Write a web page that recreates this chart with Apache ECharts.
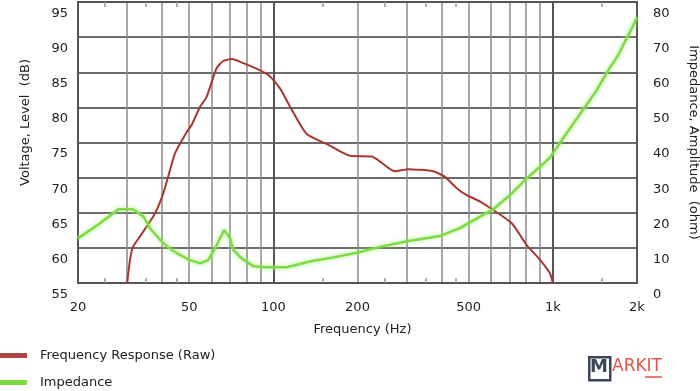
<!DOCTYPE html>
<html>
<head>
<meta charset="utf-8">
<script src="https://cdn.jsdelivr.net/npm/echarts@6/dist/echarts.min.js"></script>
<style>html,body{margin:0;padding:0;background:#fff;}#c{width:700px;height:391px;}</style>
</head>
<body>
<div id="c"></div>
<script>
// ---- data ----
const freqRawHz = [30, 30.7, 31.5, 33.3, 37.7, 40.4, 42.7, 44.5, 49, 51, 54.7, 57.7, 62.7, 66.2, 71, 78, 86, 96, 105.6, 114.7, 131.6, 155, 188, 225, 237, 272, 304, 373, 411, 453, 492, 549, 612, 713, 806, 900, 976, 1000];
const freqRawDb = [55, 58.3, 60.2, 61.6, 64.9, 67.8, 71.1, 73.5, 76.5, 77.5, 80.1, 81.5, 85.6, 86.6, 86.9, 86.3, 85.6, 84.6, 82.7, 80.1, 76.2, 74.8, 73.1, 73.0, 72.5, 70.9, 71.2, 70.9, 70.1, 68.5, 67.5, 66.6, 65.4, 63.5, 60.4, 58.3, 56.4, 55];
const impHz = [20, 24, 27.9, 31.5, 34.3, 36.2, 40.4, 43.3, 46.3, 50.3, 54.7, 58.5, 62.7, 66.7, 70, 71.9, 77, 84.8, 94.7, 111.6, 135, 164, 199, 247, 308, 395, 465, 549, 612, 713, 806, 900, 976, 1090, 1250, 1358, 1435, 1579, 1714, 1837, 1930, 2000];
const impOhm = [12.7, 17.0, 21.0, 21.0, 18.9, 15.6, 11.3, 9.4, 8.0, 6.5, 5.6, 6.5, 10.8, 15.1, 12.7, 9.4, 7.0, 4.8, 4.5, 4.5, 6.1, 7.3, 8.6, 10.5, 12.0, 13.4, 15.6, 18.9, 21.0, 25.5, 29.8, 33.1, 35.7, 41.3, 48.1, 52.1, 54.9, 60.6, 64.9, 69.7, 72.9, 75.7];
const xLabelValues = [20, 50, 100, 200, 500, 1000, 2000];
const xGridValues = [30, 40, 50, 60, 70, 80, 90, 200, 300, 400, 500, 600, 700, 800, 900];
const xMajorGridValues = [100, 1000];
const xMinorTicks = [25, 35, 45, 150, 250, 350, 450, 1500];
const seriesNames = ['Frequency Response (Raw)', 'Impedance'];

const FONT = 'DejaVu Sans';
const rawData = freqRawHz.map((f, i) => [f, freqRawDb[i]]);
const impData = impHz.map((f, i) => [f, impOhm[i]]);

const baseX = { type: 'log', logBase: 10, min: 20, max: 2000, gridIndex: 0 };
const chart = echarts.init(document.getElementById('c'), null, { renderer: 'canvas' });
chart.setOption({
  animation: false,
  backgroundColor: '#fff',
  grid: { left: 78, right: 63, top: 2, bottom: 108, containLabel: false, outerBoundsMode: 'none' },
  legend: {
    orient: 'vertical', left: 0, top: 349, padding: 0, itemGap: 14,
    itemWidth: 27, itemHeight: 5,
    textStyle: { fontFamily: FONT, fontSize: 13, color: '#222', padding: [0, 0, 0, 8] },
    data: [
      { name: seriesNames[0], icon: 'rect', itemStyle: { color: '#b04545' } },
      { name: seriesNames[1], icon: 'rect', itemStyle: { color: '#7ddc46' } }
    ]
  },
  xAxis: [
    Object.assign({}, baseX, {
      position: 'bottom',
      name: 'Frequency (Hz)', nameLocation: 'middle', nameGap: 40,
      nameTextStyle: { fontFamily: FONT, fontSize: 13, color: '#222', padding: [0, 0, 0, 10] },
      axisLine: { show: true, lineStyle: { color: '#555', width: 2 } },
      axisTick: { show: true, inside: true, length: 5, customValues: xMinorTicks, lineStyle: { color: '#999', width: 1.5 } },
      axisLabel: { customValues: xLabelValues, margin: 18, fontFamily: FONT, fontSize: 13, color: '#222',
        formatter: v => (v >= 1000 ? (Math.round(v / 100) / 10) + 'k' : String(Math.round(v))) },
      splitLine: { show: false }
    }),
    Object.assign({}, baseX, {
      position: 'top',
      axisLine: { show: true, lineStyle: { color: '#555', width: 2 } },
      axisTick: { show: true, inside: true, length: 5, customValues: xMinorTicks, lineStyle: { color: '#999', width: 1.5 } },
      axisLabel: { show: false },
      splitLine: { show: false }
    }),
    Object.assign({}, baseX, {
      position: 'bottom',
      axisLine: { show: false },
      axisTick: { show: false, customValues: xGridValues },
      axisLabel: { show: false },
      splitLine: { show: true, lineStyle: { color: '#8a8a8a', width: 1.5 } }
    }),
    Object.assign({}, baseX, {
      position: 'bottom',
      axisLine: { show: false },
      axisTick: { show: false, customValues: xMajorGridValues },
      axisLabel: { show: false },
      splitLine: { show: true, lineStyle: { color: '#555', width: 2 } }
    })
  ],
  yAxis: [
    {
      type: 'value', min: 55, max: 95, interval: 5, position: 'left',
      name: 'Voltage, Level  (dB)', nameLocation: 'middle', nameGap: 46,
      nameTextStyle: { fontFamily: FONT, fontSize: 13, color: '#222', padding: [0, 0, 0, 40] },
      axisLine: { show: true, lineStyle: { color: '#555', width: 2 } },
      axisTick: { show: false },
      axisLabel: { margin: 10, fontFamily: FONT, fontSize: 13, color: '#222', verticalAlign: 'top', padding: [5, 0, 0, 0] },
      splitLine: { show: true, lineStyle: { color: '#6a6a6a', width: 2 } }
    },
    {
      type: 'value', min: 0, max: 80, interval: 10, position: 'right',
      name: 'Impedance, Amplitude  (ohm)', nameLocation: 'middle', nameGap: 50, nameRotate: -90,
      nameTextStyle: { fontFamily: FONT, fontSize: 13, color: '#222' },
      axisLine: { show: true, lineStyle: { color: '#555', width: 2 } },
      axisTick: { show: false },
      axisLabel: { margin: 16, fontFamily: FONT, fontSize: 13, color: '#222', verticalAlign: 'top', padding: [5, 0, 0, 0] },
      splitLine: { show: false }
    }
  ],
  series: [
    {
      name: seriesNames[0], type: 'line', xAxisIndex: 0, yAxisIndex: 0,
      data: rawData, showSymbol: false, smooth: 0.2, z: 3,
      lineStyle: { color: '#a8382f', width: 2 }, itemStyle: { color: '#b04545' }
    },
    {
      name: seriesNames[1], type: 'line', xAxisIndex: 0, yAxisIndex: 1,
      data: impData, showSymbol: false, smooth: false, z: 4,
      lineStyle: { color: '#7ddc46', width: 2.5, shadowBlur: 4, shadowColor: 'rgba(160,235,110,0.9)' },
      itemStyle: { color: '#7ddc46' }
    }
  ],
  graphic: [
    { type: 'rect', left: 588, top: 356, shape: { width: 21, height: 23 }, style: { fill: '#fff', stroke: '#3d4658', lineWidth: 2.5 } },
    { type: 'text', left: 590, top: 358, style: { text: 'M', fontFamily: FONT, fontSize: 18, fontWeight: 'bold', fill: '#3d4658' } },
    { type: 'text', left: 612, top: 358, style: { text: 'ARKIT', fontFamily: FONT, fontSize: 17, fill: '#e0564a' } },
    { type: 'line', shape: { x1: 645, y1: 377, x2: 662, y2: 377 }, style: { stroke: '#e0564a', lineWidth: 1.5 } }
  ]
});
</script>
</body>
</html>
